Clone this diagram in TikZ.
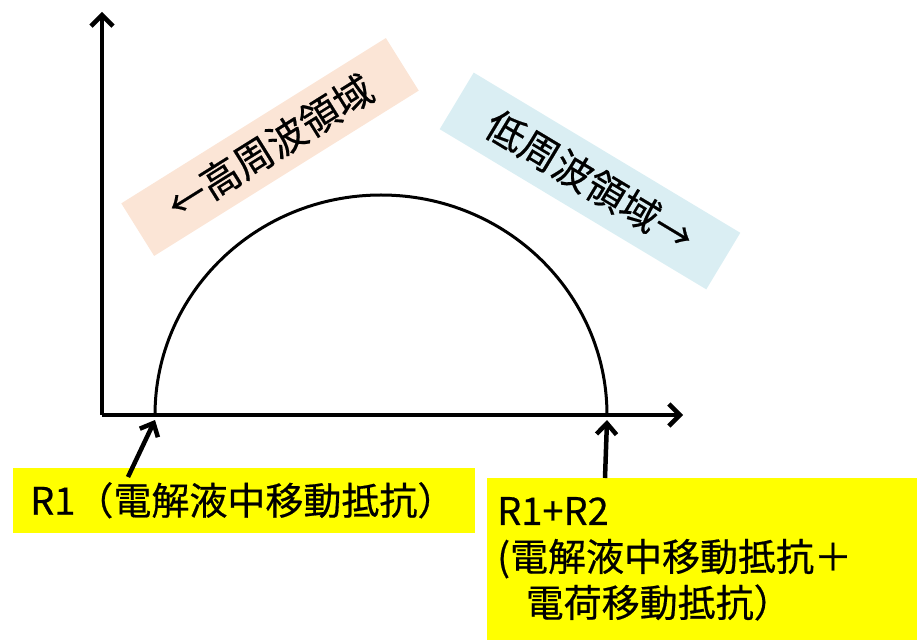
\documentclass[tikz,border=0pt]{standalone}
\usepackage{fontspec}
\setmainfont[FakeBold=0.5,AutoFakeBold=0.5]{Noto Sans CJK JP}
\usetikzlibrary{arrows.meta}
\definecolor{peach}{HTML}{FBE5D6}
\definecolor{lblue}{HTML}{DAEEF3}
\definecolor{yel}{HTML}{FFFF00}
\tikzset{
  axis/.style={line width=4.5pt, -{Straight Barb[length=11pt,width=22pt]}},
  ptr/.style={line width=4.5pt, -{Straight Barb[length=11pt,width=20pt]}},
  curve/.style={line width=3pt},
  band/.style={inner sep=0pt, minimum height=62pt, font=\fontsize{39}{44}\selectfont},
  label/.style={fill=yel, inner sep=0pt, font=\fontsize{38}{46}\selectfont}
}
\begin{document}
\begin{tikzpicture}[x=1pt,y=1pt]
\useasboundingbox (0,0) rectangle (917,640);
% rotated bands
\node[band, fill=peach, rotate=32, minimum width=312pt] (hf) at (270,493) {\bfseries ←高周波領域};
\node[band, fill=lblue, rotate=-31, minimum width=311pt, minimum height=66pt] (lf) at (590,459) {\bfseries 低周波領域→};
% axes
\coordinate (O) at (102,225);
\coordinate (ytip) at (102,628);
\coordinate (xtip) at (683,225);
\draw[axis] (O) -- (ytip);
\draw[axis] (O) -- (xtip);
% semicircle
\coordinate (a) at (155,225);
\coordinate (b) at (607,225);
\draw[curve] (a) arc[start angle=180, end angle=0, x radius=226, y radius=220];
% labels
\node[label, anchor=south west, minimum width=462pt, minimum height=65pt, text width=440pt, align=left] (r1) at (13,107) {\hspace*{6pt}\bfseries R1（電解液中移動抵抗）};
\node[label, anchor=south west, minimum width=430pt, minimum height=162pt, text width=410pt, align=left] (r2) at (487,0) {\bfseries R1+R2\\(電解液中移動抵抗＋\\\hspace*{0.75em}電荷移動抵抗）};
% pointers
\coordinate (p1) at (128,163);
\coordinate (p2) at (605,162);
\draw[ptr] (p1) -- ([shift={(0,-5)}]a);
\draw[ptr] (p2) -- ([shift={(0,-5)}]b);
\end{tikzpicture}
\end{document}
